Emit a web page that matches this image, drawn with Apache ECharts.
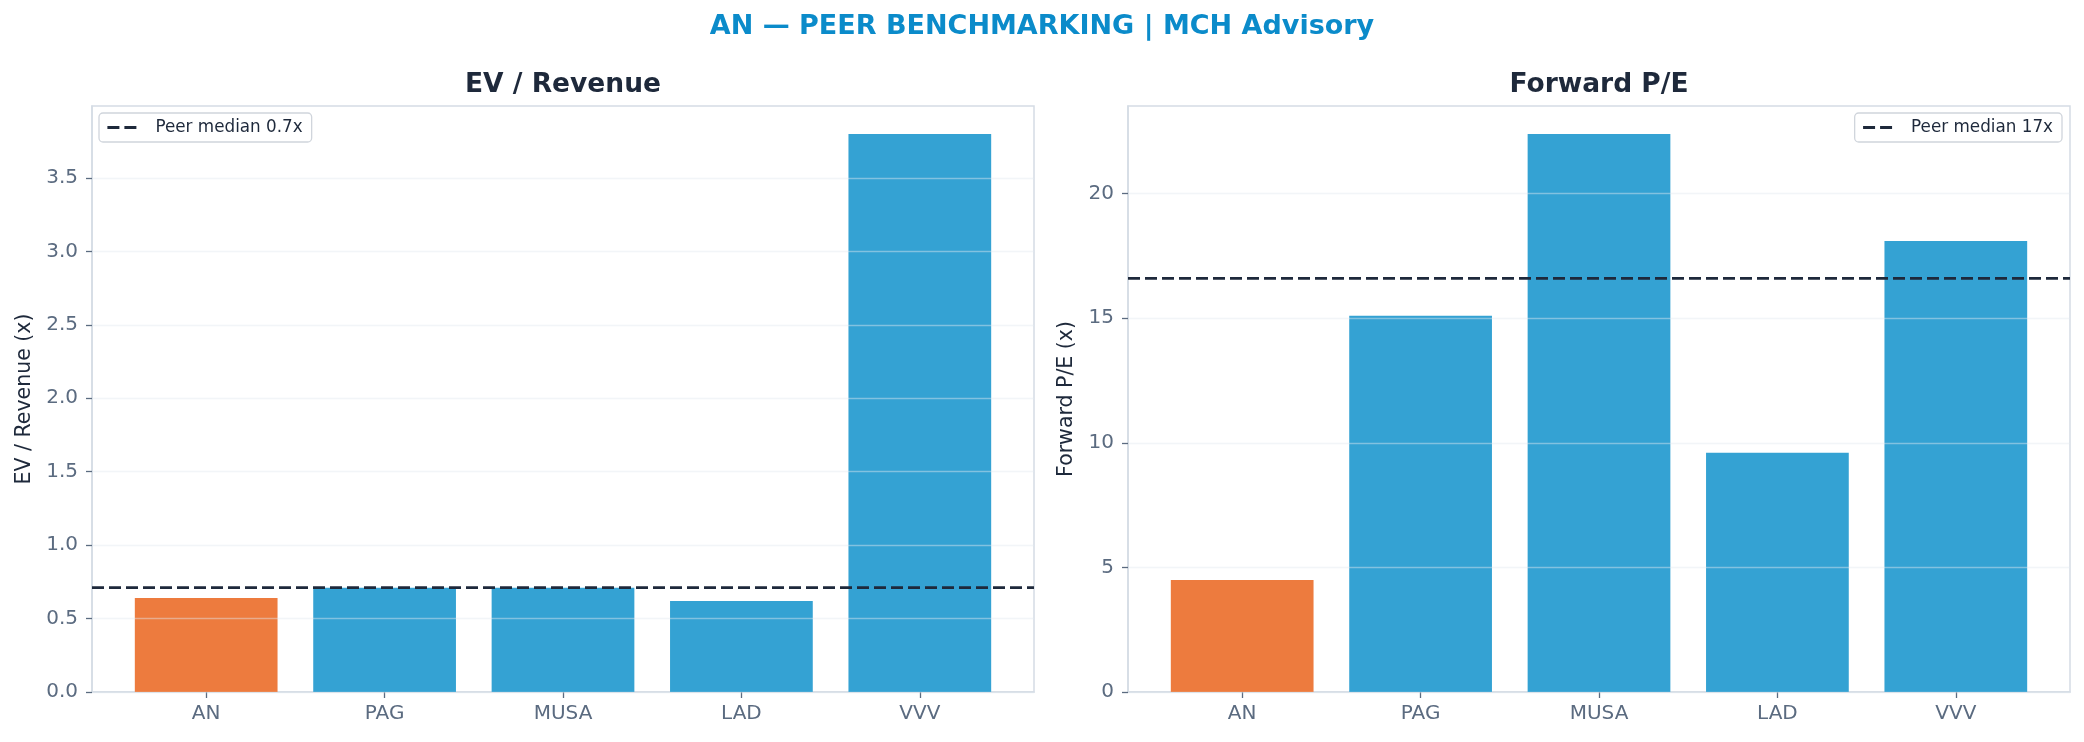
<!DOCTYPE html>
<html>
<head>
<meta charset="utf-8">
<script src="https://cdn.jsdelivr.net/npm/echarts@6/dist/echarts.min.js"></script>
<style>
  html, body { margin: 0; padding: 0; background: #ffffff; }
  #chart { width: 2084px; height: 742px; }
</style>
</head>
<body>
<div id="chart"></div>
<script>
// ---- data ----
const categories = ['AN', 'PAG', 'MUSA', 'LAD', 'VVV'];
const highlightTicker = 'AN';
const evRevenue = [0.64, 0.71, 0.71, 0.62, 3.80];
const forwardPE = [4.5, 15.1, 22.4, 9.6, 18.1];
const evMedian = 0.71;
const peMedian = 16.6;
const evTickValues = [0, 0.5, 1.0, 1.5, 2.0, 2.5, 3.0, 3.5];
const peTickValues = [0, 5, 10, 15, 20];
const evAxisMax = 3.99;
const peAxisMax = 23.52;
const xAxisMin = -0.64;
const xAxisMax = 4.64;

// ---- styles ----
const FONT = 'DejaVu Sans';
const ORANGE = '#ED7B3E';
const BLUE = '#34A2D3';
const DARK = '#1E293B';
const TICK = '#5B6B80';
const FRAME = '#D5DCE5';
const GRIDLINE = 'rgba(226,232,240,0.45)';

function barData(values) {
  return values.map((v, i) => ({
    value: [i, v],
    itemStyle: { color: categories[i] === highlightTicker ? ORANGE : BLUE }
  }));
}

function xAxisFor(gridIndex) {
  return {
    type: 'value', gridIndex, min: xAxisMin, max: xAxisMax,
    axisLine: { show: true, onZero: false, lineStyle: { color: FRAME, width: 1.5 } },
    axisTick: { show: true, customValues: categories.map((c, i) => i), length: 6, lineStyle: { color: TICK, width: 1.3 } },
    axisLabel: {
      customValues: categories.map((c, i) => i),
      formatter: v => categories[Math.round(v)],
      color: TICK, fontFamily: FONT, fontSize: 20, margin: 12
    },
    splitLine: { show: false }
  };
}

function yAxisFor(gridIndex, max, ticks, name, decimals, nameGap) {
  return {
    type: 'value', gridIndex, min: 0, max: max, z: 3,
    name: name, nameLocation: 'middle', nameGap: nameGap,
    nameTextStyle: { color: DARK, fontFamily: FONT, fontSize: 20.5 },
    axisLine: { show: true, onZero: false, lineStyle: { color: FRAME, width: 1.5 } },
    axisTick: { show: true, customValues: ticks, length: 6, lineStyle: { color: TICK, width: 1.3 } },
    axisLabel: {
      customValues: ticks,
      formatter: v => v.toFixed(decimals),
      color: TICK, fontFamily: FONT, fontSize: 20, margin: 14
    },
    splitLine: { show: true, lineStyle: { color: GRIDLINE, width: 1.3 } }
  };
}

function medianSeries(name, value, axisIndex) {
  return {
    type: 'line', name: name, xAxisIndex: axisIndex, yAxisIndex: axisIndex,
    data: [[xAxisMin, value], [xAxisMax, value]],
    symbol: 'none', silent: true, z: 5,
    lineStyle: { color: DARK, width: 2.8, type: [12, 5] },
    itemStyle: { color: DARK }
  };
}

const evMedianName = 'Peer median ' + evMedian.toFixed(1) + 'x';
const peMedianName = 'Peer median ' + peMedian.toFixed(0) + 'x';

const legendCommon = {
  orient: 'horizontal', itemWidth: 34, itemHeight: 12, itemGap: 10,
  backgroundColor: '#ffffff', borderColor: '#D0D5DC', borderWidth: 1.3, borderRadius: 4,
  padding: [6, 9, 6, 7],
  itemStyle: { color: 'rgba(0,0,0,0)', borderColor: 'rgba(0,0,0,0)', borderWidth: 0, opacity: 0 },
  lineStyle: { color: DARK, width: 2.8, type: [12, 5] },
  textStyle: { color: DARK, fontFamily: FONT, fontSize: 16.8, padding: [0, 0, 0, 9] }
};

const option = {
  backgroundColor: '#ffffff',
  animation: false,
  title: [
    { text: 'AN — PEER BENCHMARKING | MCH Advisory', left: 1042, top: 13, textAlign: 'center', padding: 0,
      textStyle: { color: '#0B8BCA', fontFamily: FONT, fontWeight: 'bold', fontSize: 27 } },
    { text: 'EV / Revenue', left: 563, top: 72, textAlign: 'center', padding: 0,
      textStyle: { color: DARK, fontFamily: FONT, fontWeight: 'bold', fontSize: 26.5 } },
    { text: 'Forward P/E', left: 1599, top: 72, textAlign: 'center', padding: 0,
      textStyle: { color: DARK, fontFamily: FONT, fontWeight: 'bold', fontSize: 26.5 } }
  ],
  legend: [
    Object.assign({}, legendCommon, { left: 99, top: 113, data: [evMedianName] }),
    Object.assign({}, legendCommon, { right: 22, top: 113, data: [peMedianName] })
  ],
  grid: [
    { left: 92, right: 1050, top: 106, bottom: 50, show: true, borderColor: FRAME, borderWidth: 1.5, backgroundColor: 'transparent', outerBoundsMode: 'none' },
    { left: 1128, right: 14, top: 106, bottom: 50, show: true, borderColor: FRAME, borderWidth: 1.5, backgroundColor: 'transparent', outerBoundsMode: 'none' }
  ],
  xAxis: [xAxisFor(0), xAxisFor(1)],
  yAxis: [
    yAxisFor(0, evAxisMax, evTickValues, 'EV / Revenue (x)', 1, 57),
    yAxisFor(1, peAxisMax, peTickValues, 'Forward P/E (x)', 0, 51)
  ],
  series: [
    { type: 'bar', name: 'EV / Revenue', xAxisIndex: 0, yAxisIndex: 0, barWidth: '80%', data: barData(evRevenue) },
    { type: 'bar', name: 'Forward P/E', xAxisIndex: 1, yAxisIndex: 1, barWidth: '80%', data: barData(forwardPE) },
    medianSeries(evMedianName, evMedian, 0),
    medianSeries(peMedianName, peMedian, 1)
  ]
};

const chart = echarts.init(document.getElementById('chart'), null, { renderer: 'canvas' });
chart.setOption(option);
</script>
</body>
</html>
